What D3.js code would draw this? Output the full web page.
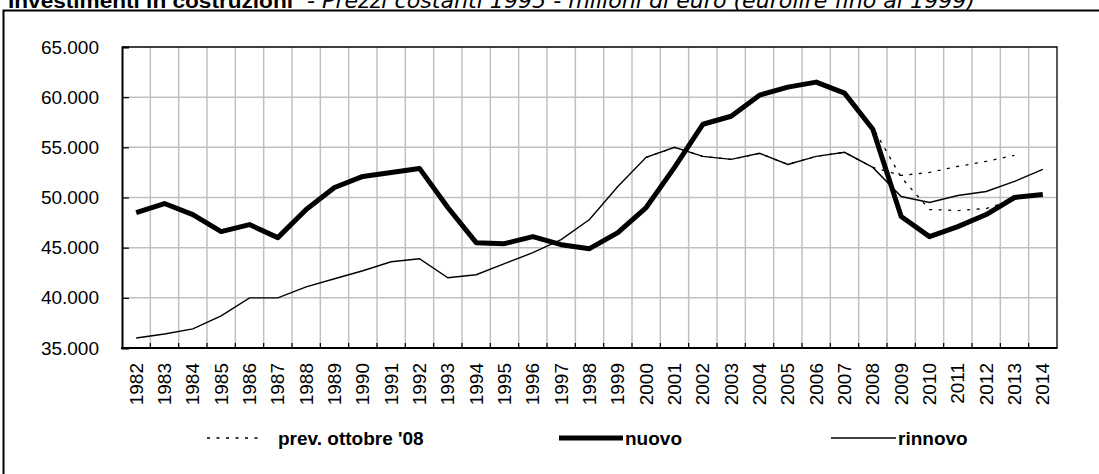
<!DOCTYPE html>
<html>
<head>
<meta charset="utf-8">
<script src="https://cdn.jsdelivr.net/npm/d3@7"></script>
<style>
  body { margin: 0; background: #fff; }
  svg { display: block; }
  text { font-family: "Liberation Sans", Arial, sans-serif; fill: #000; }
</style>
</head>
<body>
<svg id="chart" width="1099" height="474"></svg>
<script>
// data (milioni di euro, prezzi 1995)
var anni = ["1982","1983","1984","1985","1986","1987","1988","1989","1990","1991","1992",
            "1993","1994","1995","1996","1997","1998","1999","2000","2001","2002","2003",
            "2004","2005","2006","2007","2008","2009","2010","2011","2012","2013","2014"];

var nuovo = [48500, 49400, 48300, 46600, 47300, 46000, 48800, 51000, 52100, 52500, 52900,
             49000, 45500, 45400, 46100, 45300, 44900, 46500, 49000, 53000, 57300, 58100,
             60200, 61000, 61500, 60400, 56800, 48100, 46100, 47100, 48300, 50000, 50300];

var rinnovo = [36000, 36400, 36900, 38200, 40000, 40000, 41100, 41900, 42700, 43600, 43900,
               42000, 42300, 43400, 44500, 45800, 47800, 51100, 54000, 55000, 54100, 53800,
               54400, 53300, 54100, 54500, 53000, 50100, 49500, 50200, 50600, 51600, 52800];

// previsioni ottobre '08 (dal 2000 al 2013)
var prevNuovo = [null, null, null, null, null, null, null, null, null, null, null,
                 null, null, null, null, null, null, null, 49000, 53000, 57300, 58100,
                 60200, 61000, 61500, 60500, 57000, 52000, 48800, 48700, 48900, 49800, null];

var prevRinnovo = [null, null, null, null, null, null, null, null, null, null, null,
                   null, null, null, null, null, null, null, 54000, 55000, 54100, 53800,
                   54400, 53300, 54100, 54500, 53000, 52200, 52500, 53100, 53600, 54200, null];

var yTicks = [35000, 40000, 45000, 50000, 55000, 60000, 65000];

var titolo = "Investimenti in costruzioni";
var sottotitolo = " - Prezzi costanti 1995 - milioni di euro (eurolire fino al 1999)";

(function () {
  var svg = d3.select("#chart");

  // plot area edges
  var pL = 122, pR = 1057, pT = 47, pB = 348;

  var x = d3.scaleBand().domain(anni).range([pL, pR]).padding(0);
  var y = d3.scaleLinear().domain([35000, 65000]).range([pB, pT]);

  var fmt = function (v) { return d3.format(",")(v).replace(/,/g, "."); };

  // outer chart border (right/bottom fall outside the picture)
  svg.append("rect")
    .attr("x", 3.5).attr("y", 10.5)
    .attr("width", 1120).attr("height", 500)
    .attr("fill", "none").attr("stroke", "#000").attr("stroke-width", 2);

  // title, mostly cut off at the top
  var t = svg.append("text").attr("x", 8).attr("y", 8);
  t.append("tspan").attr("font-weight", "bold").attr("font-size", 21)
    .attr("textLength", 285).attr("lengthAdjust", "spacingAndGlyphs").text(titolo);
  t.append("tspan").attr("x", 300).attr("font-style", "italic").attr("font-size", 21)
    .attr("font-family", "DejaVu Sans, sans-serif")
    .attr("textLength", 675).attr("lengthAdjust", "spacingAndGlyphs").text(sottotitolo);

  // gridlines
  svg.append("g").selectAll("line")
    .data(yTicks.slice(1, -1))
    .enter().append("line")
    .attr("x1", pL).attr("x2", pR)
    .attr("y1", function (d) { return y(d); }).attr("y2", function (d) { return y(d); })
    .attr("stroke", "#c0c0c0").attr("stroke-width", 1.5);

  svg.append("g").selectAll("line")
    .data(anni.slice(1))
    .enter().append("line")
    .attr("x1", function (d) { return x(d); }).attr("x2", function (d) { return x(d); })
    .attr("y1", pT).attr("y2", pB)
    .attr("stroke", "#c0c0c0").attr("stroke-width", 1.5);

  // plot area frame (top/right)
  svg.append("path")
    .attr("d", "M" + pL + "," + pT + "H" + pR + "V" + pB)
    .attr("fill", "none").attr("stroke", "#000").attr("stroke-width", 1.3);

  // y axis: ticks point inside
  var yAxis = d3.axisLeft(y).tickValues(yTicks).tickSize(-7).tickPadding(23).tickFormat(fmt);
  var gy = svg.append("g").attr("transform", "translate(" + pL + ",0)").call(yAxis);
  gy.select(".domain").attr("stroke-width", 2);
  gy.selectAll(".tick line").attr("stroke-width", 1.2);
  gy.selectAll("text").attr("font-size", 19).attr("font-family", "Liberation Sans, Arial, sans-serif");

  // x axis: tick marks at category boundaries, pointing up
  svg.append("g").selectAll("line")
    .data(anni.slice(1))
    .enter().append("line")
    .attr("x1", function (d) { return x(d); }).attr("x2", function (d) { return x(d); })
    .attr("y1", pB - 5).attr("y2", pB)
    .attr("stroke", "#000").attr("stroke-width", 1.2);

  svg.append("line")
    .attr("x1", pL - 1).attr("x2", pR + 0.6)
    .attr("y1", pB).attr("y2", pB)
    .attr("stroke", "#000").attr("stroke-width", 2);

  svg.append("g").selectAll("text")
    .data(anni)
    .enter().append("text")
    .attr("transform", function (d) {
      return "translate(" + (x(d) + x.bandwidth() / 2) + "," + (pB + 15) + ") rotate(-90)";
    })
    .attr("text-anchor", "end")
    .attr("dy", "0.35em")
    .attr("font-size", 19)
    .text(function (d) { return d; });

  // series
  var line = d3.line()
    .defined(function (d) { return d[1] != null; })
    .x(function (d) { return x(d[0]) + x.bandwidth() / 2; })
    .y(function (d) { return y(d[1]); });

  function serie(vals) {
    return anni.map(function (a, i) { return [a, vals[i]]; });
  }

  svg.append("path").datum(serie(rinnovo)).attr("d", line)
    .attr("fill", "none").attr("stroke", "#000").attr("stroke-width", 1.4);

  svg.append("path").datum(serie(nuovo)).attr("d", line)
    .attr("fill", "none").attr("stroke", "#000").attr("stroke-width", 5)
    .attr("stroke-linejoin", "round");

  [prevNuovo, prevRinnovo].forEach(function (p) {
    svg.append("path").datum(serie(p)).attr("d", line)
      .attr("fill", "none").attr("stroke", "#000").attr("stroke-width", 1.3)
      .attr("stroke-dasharray", "3,6.5");
  });

  // legend
  var legenda = [
    { nome: "prev. ottobre '08", x1: 207, x2: 263, tx: 278, w: 1.3, dash: "3,6.5" },
    { nome: "nuovo", x1: 559, x2: 623, tx: 625, w: 5, dash: null },
    { nome: "rinnovo", x1: 831, x2: 896, tx: 898, w: 1.4, dash: null }
  ];
  var ly = 438;
  legenda.forEach(function (l) {
    svg.append("line")
      .attr("x1", l.x1).attr("x2", l.x2).attr("y1", ly).attr("y2", ly)
      .attr("stroke", "#000").attr("stroke-width", l.w)
      .attr("stroke-dasharray", l.dash);
    svg.append("text")
      .attr("x", l.tx).attr("y", ly).attr("dy", "0.35em")
      .attr("font-size", 19).attr("font-weight", "bold")
      .text(l.nome);
  });
})();
</script>
</body>
</html>
